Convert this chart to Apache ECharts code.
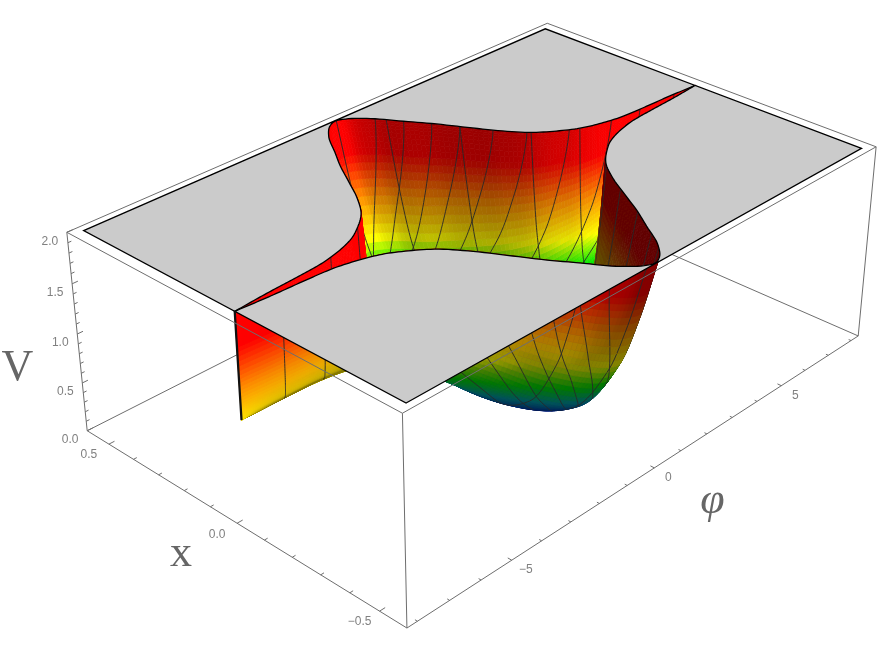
<!DOCTYPE html>
<html><head><meta charset="utf-8">
<style>html,body{margin:0;padding:0;background:#fff}#c{width:878px;height:655px}</style>
<script src="https://cdn.jsdelivr.net/npm/echarts@6/dist/echarts.min.js"></script>
</head><body><div id="c"></div>
<script>
// ---------- values ----------
const phiTicksMajor=[-5,0,5], phiTickLabels=['\u22125','0','5'];
const xTicksMajor=[-0.5,0,0.5], xTickLabels=['\u22120.5','0.0','0.5'];
const vTicksMajor=[0,0.5,1,1.5,2], vTickLabels=['0.0','0.5','1.0','1.5','2.0'];
const phiTicksMinor=[-8,-7,-6,-4,-3,-2,-1,1,2,3,4,6,7,8];
const xTicksMinor=[-0.4,-0.3,-0.2,-0.1,0.1,0.2,0.3,0.4];
const vTicksMinor=[0.1,0.2,0.3,0.4,0.6,0.7,0.8,0.9,1.1,1.2,1.3,1.4,1.6,1.7,1.8,1.9];
// edge of the clipped plate: half-width in x of the hole against |phi|
const rimPhi=[0,0.25,0.72,1.2,1.63,2.06,2.5,3,3.6,4,4.6,5.3,6,7,8];
const rimX=[0.565,0.555,0.508,0.43,0.36,0.28,0.2,0.13,0.08,0.055,0.033,0.018,0.013,0.008,0];
// valley floor height against phi
const floorPhi=[-8,-6,-5,-4,-3,-2,-1,0,1,2,3,4,5,6,7,8];
const floorV=[0.97,0.96,0.93,0.85,0.68,0.42,0.15,0.02,0,0.1,0.3,0.52,0.72,0.85,0.93,0.97];
// wall profile across the valley: share of the height reached at relative distance t
const profileT=[0,0.2,0.4,0.6,0.8,0.9,1];
const profileH=[0,0.003,0.025,0.12,0.40,0.66,1];
// mesh lines: phi where they meet the rim
const farCurved=[0.8,1.2,1.6,1.97,2.4,2.9,3.75,4.9,5.9,7.2];
const nearCurved=[-0.8,-1.2,-1.6,-1.97,-2.4,-2.9,-3.75];
const farStraight=[-4.9,-3.5,0.04,0.96,1.97,2.97,4];
const nearStraightLong=[-6.7,-5.5,-1.1,-0.2];
const nearStraightShort=[0.3,0.6,1,1.6,2.2,2.9];
const plateV=2, domainPhi=8, domainX=0.567, boxPhi=8.32, boxX=0.59, boxV=2;
// colour stops against V
const colourV=[0,0.18,0.38,0.6,0.88,1.28,1.68,2];
const colourRGB=[[0,0,190],[0,50,170],[0,160,170],[0,230,0],[255,255,0],[255,140,0],[255,0,0],[255,0,0]];
// box corners on the page: [u,v,w, X,Y]
const boxCorners=[[0,0,0,406.7,628],[1,0,0,858.3,336],[0,1,0,87.3,430.7],[0,0,1,402.7,413.3],
 [1,0,1,876,146.7],[0,1,1,66.7,232.3],[1,1,1,547.3,23.3]];

// ---------- camera fitted to the box corners ----------
function solve(A,b){const n=b.length;const M=A.map((r,i)=>r.concat(b[i]));
 for(let i=0;i<n;i++){let p=i;for(let k=i+1;k<n;k++)if(Math.abs(M[k][i])>Math.abs(M[p][i]))p=k;
  [M[i],M[p]]=[M[p],M[i]];
  for(let k=i+1;k<n;k++){const f=M[k][i]/M[i][i];for(let j=i;j<=n;j++)M[k][j]-=f*M[i][j];}}
 const x=new Array(n).fill(0);
 for(let i=n-1;i>=0;i--){let s=M[i][n];for(let j=i+1;j<n;j++)s-=M[i][j]*x[j];x[i]=s/M[i][i];}
 return x;}
const R=[],B=[];
boxCorners.forEach(([u,v,w,X,Y])=>{
 R.push([u,v,w,1,0,0,0,0,-X*u,-X*v,-X*w]);B.push(X);
 R.push([0,0,0,0,u,v,w,1,-Y*u,-Y*v,-Y*w]);B.push(Y);});
const AtA=Array.from({length:11},(_,i)=>Array.from({length:11},(_,j)=>R.reduce((s,r)=>s+r[i]*r[j],0)));
const Atb=Array.from({length:11},(_,i)=>R.reduce((s,r,k)=>s+r[i]*B[k],0));
const P=solve(AtA,Atb);
function project(phi,x,V){const u=(phi+boxPhi)/(2*boxPhi),v=(x+boxX)/(2*boxX),w=V/boxV;
 const d=P[8]*u+P[9]*v+P[10]*w+1;
 return [(P[0]*u+P[1]*v+P[2]*w+P[3])/d,(P[4]*u+P[5]*v+P[6]*w+P[7])/d,d];}

// ---------- surface lookups: smooth reading between the table rows ----------
function lookup(xs,ys,q){const n=xs.length;
 if(q<=xs[0])return ys[0]; if(q>=xs[n-1])return ys[n-1];
 let i=1;while(q>xs[i])i++;
 const h=xs[i]-xs[i-1];
 const tan=k=>{if(k===0)return 0;if(k===n-1)return (ys[k]-ys[k-1])/(xs[k]-xs[k-1]);
  const a=(ys[k]-ys[k-1])/(xs[k]-xs[k-1]),b=(ys[k+1]-ys[k])/(xs[k+1]-xs[k]);
  return a*b<=0?0:2*a*b/(a+b);};
 const m0=tan(i-1),m1=tan(i),f=(q-xs[i-1])/h,f2=f*f,f3=f2*f;
 return (2*f3-3*f2+1)*ys[i-1]+(f3-2*f2+f)*h*m0+(-2*f3+3*f2)*ys[i]+(f3-f2)*h*m1;}
const rim=p=>lookup(rimPhi,rimX,Math.abs(p));
const floorAt=p=>lookup(floorPhi,floorV,p);
function point(p,t){const m=floorAt(p);return [p,t*rim(p),m+(plateV-m)*lookup(profileT,profileH,Math.abs(t))];}
function colourOf(V,b){const i=Math.max(1,colourV.findIndex(c=>c>=V));const f=(V-colourV[i-1])/(colourV[i]-colourV[i-1]);
 const c=colourRGB[i-1].map((a,k)=>Math.round((a+f*(colourRGB[i][k]-a))*b));return 'rgb('+c+')';}

// ---------- primitives ----------
const surface=[];
const NP=240,NT=100;
const sx=31.25,sy=313,sz=100;
const tAt=j=>Math.sin(Math.PI/2*(-1+2*j/NT));
for(let i=0;i<NP;i++){for(let j=0;j<NT;j++){
 const p0=-domainPhi+2*domainPhi*i/NP,p1=-domainPhi+2*domainPhi*(i+1)/NP,t0=tAt(j),t1=tAt(j+1);
 const a=point(p0,t0),b=point(p1,t0),c=point(p1,t1),d=point(p0,t1);
 const A=project(...a),Bq=project(...b),C=project(...c),D=project(...d);
 const e=[(c[0]-a[0])*sx,(c[1]-a[1])*sy,(c[2]-a[2])*sz],g=[(d[0]-b[0])*sx,(d[1]-b[1])*sy,(d[2]-b[2])*sz];
 let n=[e[1]*g[2]-e[2]*g[1],e[2]*g[0]-e[0]*g[2],e[0]*g[1]-e[1]*g[0]];
 const L=Math.hypot(...n)||1;n=n.map(q=>q/L);if(n[2]<0)n=n.map(q=>-q);
 const area=(C[0]-A[0])*(D[1]-Bq[1])-(C[1]-A[1])*(D[0]-Bq[0]);
 let br;
 if(area<0)br=0.7+0.33*n[0]-0.36*n[1]+0.55*n[2];
 else br=1-2.2*n[2];
 br=Math.min(1,Math.max(area<0?0.38:0.52,br));
 const V=(a[2]+b[2]+c[2]+d[2])/4;
 surface.push({k:'poly',pts:[A,Bq,C,D],fill:colourOf(V,br),d:(A[2]+Bq[2]+C[2]+D[2])/4});
}}
// mesh lines
function addMesh(pathFn,tEnd){let prev=null;
 for(let s=0;s<=70;s++){const u=1-(1-tEnd)*s/70;const ph=pathFn(u);
  if(Math.abs(ph[0])>domainPhi){prev=null;continue;}
  const q=project(...point(ph[0],ph[1]));
  if(prev)surface.push({k:'line',pts:[prev,q],d:(prev[2]+q[2])/2-0.003,w:1,col:'rgba(40,40,40,0.9)'});
  prev=q;}}
const curveShift=t=>5*Math.pow(1-t,1.3);
farCurved.forEach(p0=>addMesh(t=>[p0-curveShift(t),t],0.45));
nearCurved.forEach(p0=>addMesh(t=>[p0+curveShift(t),-t],0.03));
farStraight.forEach(p0=>addMesh(t=>[p0,t],0.45));
nearStraightLong.forEach(p0=>addMesh(t=>[p0,-t],0.02));
nearStraightShort.forEach(p0=>addMesh(t=>[p0,-t],0.72));
surface.sort((a,b)=>b.d-a.d);
// left end edge
const endEdge=[project(-domainPhi,0,plateV),project(-domainPhi,0,floorAt(-domainPhi))];

// plate, two halves meeting at the slit
const farRim=[],nearRim=[];
for(let i=0;i<=NP;i++){const p=-domainPhi+2*domainPhi*i/NP;
 farRim.push(project(p,rim(p),plateV));nearRim.push(project(p,-rim(p),plateV));}
const plate=[
 {k:'poly',pts:[project(-domainPhi,domainX,plateV),project(domainPhi,domainX,plateV)].concat(farRim.slice().reverse()),fill:'#cbcbcb',stroke:'#000',lw:1.3},
 {k:'poly',pts:[project(-domainPhi,-domainX,plateV),project(domainPhi,-domainX,plateV)].concat(nearRim.slice().reverse()),fill:'#cbcbcb',stroke:'#000',lw:1.3},
 {k:'line',pts:endEdge,w:2.2,col:'#111'}
];

// box
const edgeCol='#6e6e6e';
const c=(a,b,d)=>project(a*boxPhi,b*boxX,d*boxV);
const edge=(p,q)=>({k:'line',pts:[p,q],w:1,col:edgeCol});
const backBox=[edge(c(-1,1,0),c(1,1,0)),edge(c(1,1,0),c(1,-1,0))];
const frontBox=[
 edge(c(-1,-1,0),c(1,-1,0)),edge(c(-1,-1,0),c(-1,1,0)),
 edge(c(-1,-1,0),c(-1,-1,1)),edge(c(1,-1,0),c(1,-1,1)),edge(c(-1,1,0),c(-1,1,1)),
 edge(c(-1,-1,1),c(1,-1,1)),edge(c(1,-1,1),c(1,1,1)),edge(c(1,1,1),c(-1,1,1)),edge(c(-1,1,1),c(-1,-1,1))];
const tick=(p,q)=>({k:'line',pts:[p,q],w:1,col:edgeCol});
phiTicksMajor.forEach(v=>frontBox.push(tick(project(v,-boxX,0),project(v,-boxX+0.013,0))));
phiTicksMinor.forEach(v=>frontBox.push(tick(project(v,-boxX,0),project(v,-boxX+0.008,0))));
xTicksMajor.forEach(v=>frontBox.push(tick(project(-boxPhi,v,0),project(-boxPhi+0.17,v,0))));
xTicksMinor.forEach(v=>frontBox.push(tick(project(-boxPhi,v,0),project(-boxPhi+0.1,v,0))));
vTicksMajor.forEach(v=>frontBox.push(tick(project(-boxPhi,boxX,v),project(-boxPhi+0.17,boxX,v))));
vTicksMinor.forEach(v=>frontBox.push(tick(project(-boxPhi,boxX,v),project(-boxPhi+0.1,boxX,v))));
const tickFont="12px 'Liberation Sans'",tickCol='#808080';
const txt=(s,p,dx,dy,font,col)=>({k:'text',s,pts:[p],dx,dy,font,col});
phiTicksMajor.forEach((v,i)=>frontBox.push(txt(phiTickLabels[i],project(v,-boxX,0),14,9.5,tickFont,tickCol)));
xTicksMajor.forEach((v,i)=>frontBox.push(txt(xTickLabels[i],project(-boxPhi,v,0),-20,11,tickFont,tickCol)));
vTicksMajor.forEach((v,i)=>frontBox.push(txt(vTickLabels[i],project(-boxPhi,boxX,v),-17,9,tickFont,tickCol)));
frontBox.push(txt('V',project(-boxPhi,boxX,1),-60,34,"44px 'Liberation Serif'",'#666'));
frontBox.push(txt('x',project(-boxPhi,0,0),-56,31,"44px 'Liberation Serif'",'#666'));
frontBox.push(txt('\u03c6',project(0,-boxX,0),58,34,"italic 44px 'Liberation Serif'",'#666'));

function seriesOf(items,z){return {type:'custom',coordinateSystem:'cartesian2d',z,silent:true,clip:false,animation:false,progressive:0,
 data:items.map((_,i)=>[i,0]),
 renderItem(params,api){const it=items[params.dataIndex];
  const pts=it.pts.map(q=>api.coord([q[0],q[1]]));
  if(it.k==='poly')return {type:'polygon',shape:{points:pts},style:{fill:it.fill,stroke:it.stroke||it.fill,lineWidth:it.lw||0.7}};
  if(it.k==='line')return {type:'polyline',shape:{points:pts},style:{fill:null,stroke:it.col,lineWidth:it.w}};
  return {type:'text',x:pts[0][0]+it.dx,y:pts[0][1]+it.dy,style:{text:it.s,font:it.font,fill:it.col,textAlign:'center',textVerticalAlign:'middle'}};
 }};}
const chart=echarts.init(document.getElementById('c'),null,{renderer:'canvas'});
chart.setOption({animation:false,backgroundColor:'#fff',tooltip:{show:false},
 grid:{left:0,right:0,top:0,bottom:0},
 xAxis:{type:'value',min:0,max:878,show:false},
 yAxis:{type:'value',min:0,max:655,inverse:true,show:false},
 series:[seriesOf(backBox,1),seriesOf(surface,2),seriesOf(plate,3),seriesOf(frontBox,4)]});
</script></body></html>
